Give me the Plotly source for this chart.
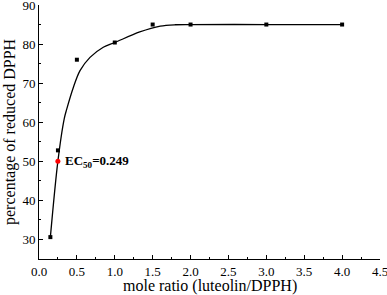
import plotly.graph_objects as go

# measured data points
ratio = [0.15, 0.25, 0.5, 1.0, 1.5, 2.0, 3.0, 4.0]
reduced = [30.6, 52.8, 76.0, 80.4, 85.0, 85.0, 85.0, 85.0]

# fitted curve
curve_x = [0.15, 0.249, 0.334, 0.365, 0.453, 0.541, 0.673, 0.848, 1.0, 1.33, 1.6, 1.8, 2.0, 3.0, 4.0]
curve_y = [30.6, 50.0, 61.0, 63.3, 68.9, 73.2, 76.6, 79.2, 80.4, 83.1, 84.6, 84.95, 85.0, 85.0, 85.0]

ec50_x = [0.249]
ec50_y = [50.0]
ec50_label = "<b>EC<sub>50</sub>=0.249</b>"

x_ticks = [0.0, 0.5, 1.0, 1.5, 2.0, 2.5, 3.0, 3.5, 4.0, 4.5]
y_ticks = [30, 40, 50, 60, 70, 80, 90]
x_title = "mole ratio (luteolin/DPPH)"
y_title = "percentage of reduced DPPH"

font = "Liberation Serif"

fig = go.Figure()
fig.add_trace(go.Scatter(x=curve_x, y=curve_y, mode="lines",
                         line=dict(color="black", width=1.3, shape="spline", smoothing=0.9),
                         hoverinfo="skip", showlegend=False))
fig.add_trace(go.Scatter(x=ratio, y=reduced, mode="markers",
                         marker=dict(symbol="square", size=4, color="black"),
                         showlegend=False))
fig.add_trace(go.Scatter(x=ec50_x, y=ec50_y, mode="markers",
                         marker=dict(symbol="circle", size=5, color="red"),
                         showlegend=False))
fig.add_annotation(x=ec50_x[0], y=ec50_y[0], text=ec50_label, showarrow=False,
                   xanchor="left", yanchor="middle", xshift=5,
                   font=dict(family=font, size=13, color="black"))
fig.add_annotation(x=0.5, y=0, xref="paper", yref="paper", yshift=-16,
                   text=x_title, showarrow=False, xanchor="center", yanchor="top",
                   font=dict(family=font, size=16, color="black"))
fig.add_annotation(x=0, y=0.5, xref="paper", yref="paper", xshift=-18,
                   text=y_title, showarrow=False, textangle=-90, xanchor="right", yanchor="middle",
                   font=dict(family=font, size=16, color="black"))

axis_common = dict(showgrid=False, zeroline=False, showline=True, linecolor="black",
                   linewidth=1, ticks="inside", ticklen=4, tickcolor="black",
                   tickfont=dict(family=font, size=13, color="black"),
                   ticklabelstandoff=0, ticklabeloverflow="allow", automargin=False,
                   minor=dict(ticks="inside", ticklen=2, tickcolor="black"))

fig.update_xaxes(range=[0, 4.5], tickvals=x_ticks, ticktext=[f"{v:.1f}" for v in x_ticks],
                 minor_dtick=0.25, **axis_common)
fig.update_yaxes(range=[25, 90], tickvals=y_ticks, minor_dtick=5, **axis_common)

fig.update_layout(width=387, height=295, margin=dict(l=39, r=7, t=5, b=36),
                  font=dict(family=font, color="black"),
                  plot_bgcolor="white", paper_bgcolor="white")
fig.write_html("out.html", config={"displayModeBar": False},
               post_script="document.body.style.margin='0';document.body.style.overflow='hidden';")
